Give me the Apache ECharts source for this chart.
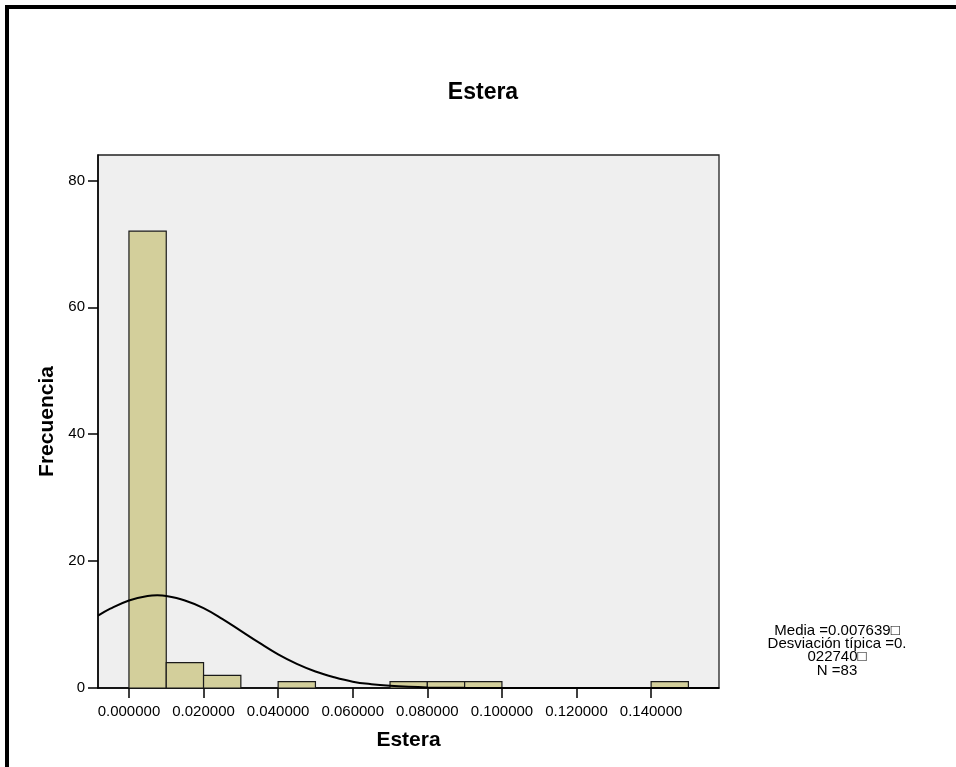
<!DOCTYPE html>
<html>
<head>
<meta charset="utf-8">
<script src="https://cdn.jsdelivr.net/npm/echarts@6/dist/echarts.min.js"></script>
<style>html,body{margin:0;padding:0;background:#fff}#c{width:956px;height:767px}</style>
</head>
<body>
<div id="c"></div>
<script>
const chartTitle = 'Estera';
const xAxisName = 'Estera';
const yAxisName = 'Frecuencia';
const binWidth = 0.01;
const binStarts = [0.00, 0.01, 0.02, 0.04, 0.07, 0.08, 0.09, 0.14];
const binCounts = [72, 4, 2, 1, 1, 1, 1, 1];
const curveX = [-0.0083, -0.005, 0.000, 0.005, 0.0076, 0.010, 0.015, 0.020, 0.025, 0.030, 0.035, 0.040, 0.045, 0.050, 0.055, 0.060, 0.065, 0.070, 0.075, 0.080, 0.090, 0.100, 0.120, 0.1582];
const curveY = [11.4, 12.5, 13.8, 14.5, 14.6, 14.5, 13.8, 12.6, 10.9, 9.0, 7.1, 5.3, 3.8, 2.6, 1.7, 1.0, 0.6, 0.34, 0.18, 0.09, 0.02, 0.003, 0, 0];
const xTicks = [0, 0.02, 0.04, 0.06, 0.08, 0.10, 0.12, 0.14];
const yTicks = [0, 20, 40, 60, 80];
const statsLines = ['Media =0.007639\u25A1', 'Desviación típica =0.', '022740\u25A1', 'N =83'];

const FONT = '"Liberation Sans", Arial, sans-serif';
const chart = echarts.init(document.getElementById('c'));
const barData = binStarts.map((s, i) => [s, s + binWidth, binCounts[i]]);
const curveData = curveX.map((x, i) => [x, curveY[i]]);

chart.setOption({
  animation: false,
  backgroundColor: '#fff',
  grid: {left: 98, right: 237, top: 155, bottom: 79, show: true, backgroundColor: '#efefef', borderColor: '#222', borderWidth: 1.3},
  xAxis: {
    type: 'value', min: -0.0083, max: 0.1582,
    name: xAxisName, nameLocation: 'middle', nameGap: 42,
    nameTextStyle: {fontFamily: FONT, fontSize: 21, fontWeight: 'bold', color: '#000'},
    splitLine: {show: false},
    axisLine: {show: true, onZero: false, lineStyle: {color: '#000', width: 1.5}},
    axisTick: {show: true, length: 10, customValues: xTicks, lineStyle: {color: '#000', width: 1.5}},
    axisLabel: {customValues: xTicks, margin: 16, fontFamily: FONT, fontSize: 15, color: '#000', formatter: v => v.toFixed(6)}
  },
  yAxis: {
    type: 'value', min: 0, max: 84,
    name: yAxisName, nameLocation: 'middle', nameGap: 34,
    nameTextStyle: {fontFamily: FONT, fontSize: 21, fontWeight: 'bold', color: '#000'},
    splitLine: {show: false},
    axisLine: {show: true, onZero: false, lineStyle: {color: '#000', width: 1.5}},
    axisTick: {show: true, length: 10, customValues: yTicks, lineStyle: {color: '#000', width: 1.5}},
    axisLabel: {customValues: yTicks, margin: 13, fontFamily: FONT, fontSize: 15, color: '#000'}
  },
  series: [
    {
      type: 'custom',
      data: barData,
      encode: {x: [0, 1], y: 2},
      renderItem: function (params, api) {
        const p0 = api.coord([api.value(0), api.value(2)]);
        const p1 = api.coord([api.value(1), 0]);
        return {
          type: 'rect',
          shape: {x: p0[0], y: p0[1], width: p1[0] - p0[0], height: p1[1] - p0[1]},
          style: {fill: '#d3cf9b', stroke: '#1a1a1a', lineWidth: 1.2}
        };
      },
      z: 2
    },
    {
      type: 'line', data: curveData, smooth: 0.4, symbol: 'none', clip: true,
      lineStyle: {color: '#000', width: 2}, z: 3
    }
  ],
  graphic: [
    {type: 'rect', shape: {x: 5, y: 5, width: 951, height: 4}, style: {fill: '#000'}},
    {type: 'rect', shape: {x: 5, y: 5, width: 4, height: 762}, style: {fill: '#000'}},
    {type: 'text', x: 483, y: 93,
      style: {text: chartTitle, fill: '#000', font: 'bold 23px ' + FONT, textAlign: 'center', textVerticalAlign: 'middle'}},
    {type: 'text', x: 837, y: 624,
      style: {text: statsLines.join('\n'), fill: '#000', font: '15px ' + FONT, textAlign: 'center', lineHeight: 13.3}}
  ]
});
</script>
</body>
</html>
